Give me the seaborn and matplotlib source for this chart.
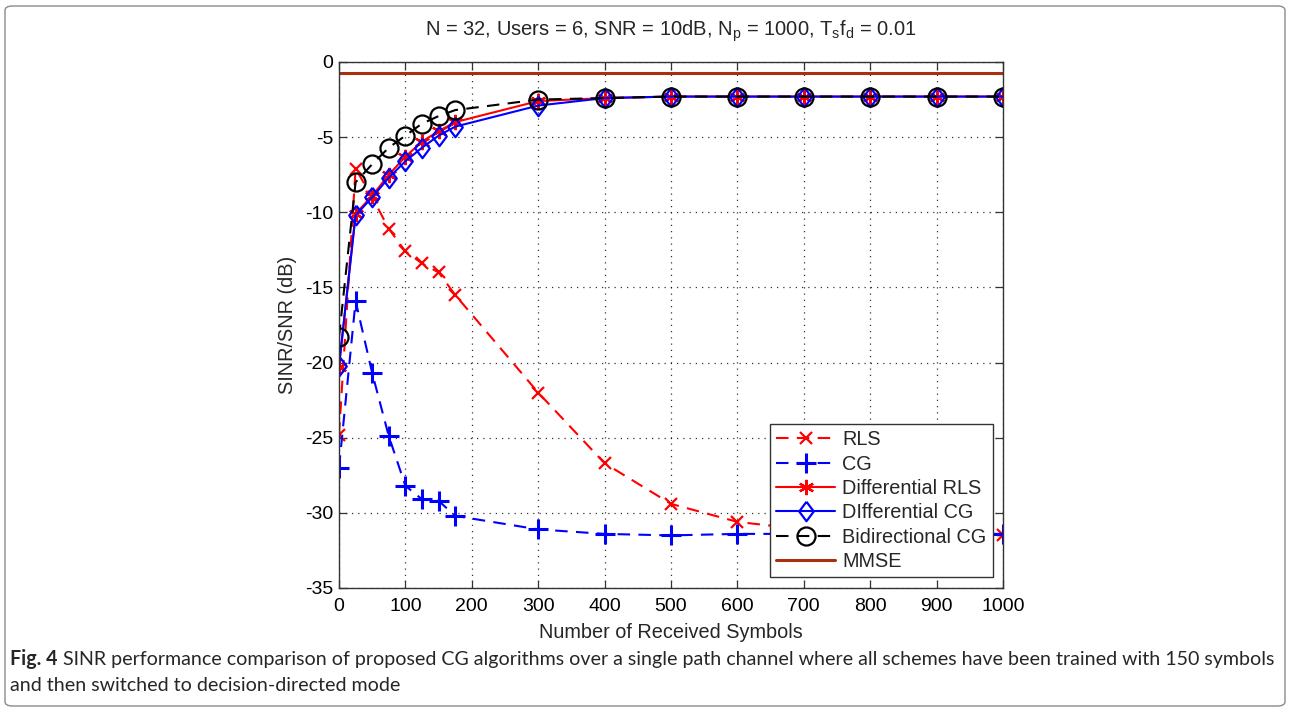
import numpy as np
import pandas as pd
import matplotlib
matplotlib.use("Agg")
import matplotlib.pyplot as plt
from matplotlib.patches import FancyBboxPatch
import seaborn as sns

# ---------------- data ----------------
symbols = [0, 25, 50, 75, 100, 125, 150, 175, 300, 400, 500, 600, 700, 800, 900, 1000]
rls = [-24.8, -7.1, -9.0, -11.1, -12.6, -13.4, -14.0, -15.5, -22.0, -26.7, -29.4, -30.6, -31.1, -31.3, -31.4, -31.5]
cg = [-27.0, -15.9, -20.7, -24.9, -28.2, -29.1, -29.2, -30.2, -31.1, -31.4, -31.5, -31.4, -31.4, -31.4, -31.4, -31.4]
diff_rls = [-20.3, -10.1, -8.9, -7.5, -6.3, -5.3, -4.6, -4.0, -2.6, -2.4, -2.3, -2.3, -2.3, -2.3, -2.3, -2.3]
diff_cg = [-20.2, -10.2, -9.0, -7.7, -6.6, -5.7, -4.9, -4.3, -2.9, -2.4, -2.3, -2.3, -2.3, -2.3, -2.3, -2.3]
bidir_cg = [-18.3, -8.0, -6.8, -5.7, -4.9, -4.1, -3.6, -3.2, -2.5, -2.4, -2.3, -2.3, -2.3, -2.3, -2.3, -2.3]
mmse_x = [0, 1000]
mmse = [-0.7, -0.7]

series_names = ["RLS", "CG", "Differential RLS", "DIfferential CG", "Bidirectional CG", "MMSE"]
x_ticks = [0, 100, 200, 300, 400, 500, 600, 700, 800, 900, 1000]
y_ticks = [-35, -30, -25, -20, -15, -10, -5, 0]

title = r"N = 32, Users = 6, SNR = 10dB, N$_\mathregular{p}$ = 1000, T$_\mathregular{s}$f$_\mathregular{d}$ = 0.01"
xlabel = "Number of Received Symbols"
ylabel = "SINR/SNR (dB)"
caption_bold = "Fig. 4"
caption_1 = (" SINR performance comparison of proposed CG algorithms over a single path channel "
             "where all schemes have been trained with 150 symbols")
caption_2 = "and then switched to decision-directed mode"

# ---------------- style ----------------
sns.set_theme(style="white")
plt.rcParams["font.family"] = ["Liberation Sans", "DejaVu Sans"]
plt.rcParams["axes.unicode_minus"] = False
plt.rcParams["mathtext.fontset"] = "custom"
plt.rcParams["mathtext.rm"] = "Liberation Sans"

W, H = 1291, 711
fig = plt.figure(figsize=(W / 100, H / 100), dpi=100)
fig.patch.set_facecolor("white")

ax_l, ax_r, ax_t, ax_b = 339, 1003, 62, 588
ax = fig.add_axes([ax_l / W, 1 - ax_b / H, (ax_r - ax_l) / W, (ax_b - ax_t) / H])

diamond = [(0, 1), (0.75, 0), (0, -1), (-0.75, 0), (0, 1)]
dash = (0, (6, 4))
lw = 1.5
sns.lineplot(x=symbols, y=rls, ax=ax, color="red", linestyle=dash, lw=lw,
             marker="x", markersize=9, markeredgewidth=1.6, markeredgecolor="red",
             label=series_names[0], sort=False)
sns.lineplot(x=symbols, y=cg, ax=ax, color="blue", linestyle=dash, lw=lw,
             marker="+", markersize=14, markeredgewidth=2.2, markeredgecolor="blue",
             label=series_names[1], sort=False)
sns.lineplot(x=symbols, y=diff_rls, ax=ax, color="red", linestyle="-", lw=lw,
             marker=(6, 2, 0), markersize=11, markeredgewidth=1.6, markeredgecolor="red",
             label=series_names[2], sort=False)
sns.lineplot(x=symbols, y=diff_cg, ax=ax, color="blue", linestyle="-", lw=lw,
             marker=diamond, markersize=14, markeredgewidth=1.6, markerfacecolor="none",
             markeredgecolor="blue", label=series_names[3], sort=False)
sns.lineplot(x=symbols, y=bidir_cg, ax=ax, color="black", linestyle=dash, lw=lw,
             marker="o", markersize=13, markeredgewidth=1.6, markerfacecolor="none",
             markeredgecolor="black", label=series_names[4], sort=False)
sns.lineplot(x=mmse_x, y=mmse, ax=ax, color="#A8300F", linestyle="-", lw=2.2,
             label=series_names[5], sort=False)

fs = 14.3
ax.set_xlim(0, 1000)
ax.set_ylim(-35, 0)
ax.set_xticks(x_ticks)
ax.set_yticks(y_ticks)
ax.set_xticklabels([str(v) for v in x_ticks])
ax.set_yticklabels([str(v) for v in y_ticks])
ax.grid(True, color="black", linestyle=(0, (1, 4)), linewidth=0.9, alpha=0.8)
ax.set_axisbelow(True)
for s in ax.spines.values():
    s.set_color("#333333")
    s.set_linewidth(1.0)
    s.set_visible(True)
ax.tick_params(axis="both", which="both", direction="in", length=6, width=0.9,
               top=True, right=True, bottom=True, left=True, labelsize=14,
               colors="#333333", labelcolor="black", pad=4)
ax.tick_params(axis="x", pad=7.5)
ax.set_xlabel(xlabel, fontsize=fs, labelpad=5.5)
ax.set_ylabel(ylabel, fontsize=fs, labelpad=6)

leg = ax.legend(loc="lower right", bbox_to_anchor=(0.985, 0.02), fontsize=fs,
                frameon=True, fancybox=False, edgecolor="#333333", framealpha=1,
                handlelength=3.0, handletextpad=0.35, labelspacing=0.27, borderpad=0.32,
                borderaxespad=0)
leg.get_frame().set_linewidth(1.0)

fig.text((ax_l + ax_r) / 2 / W, 1 - 31 / H, title, ha="center", va="center", fontsize=14.5)

# caption
cap_font = ["Lato", "DejaVu Sans"]
cap_size = 14.1
t1 = fig.text(10 / W, 1 - 665 / H, caption_bold, ha="left", va="baseline", fontsize=cap_size,
              fontweight="bold", family=cap_font)
fig.canvas.draw()
bb = t1.get_window_extent()
fig.text(bb.x1 / W, 1 - 665 / H, caption_1, ha="left", va="baseline", fontsize=cap_size,
         family=cap_font)
fig.text(10 / W, 1 - 691 / H, caption_2, ha="left", va="baseline", fontsize=cap_size,
         family=cap_font)

# outer frame
frame = FancyBboxPatch((5 / W, 5 / H), (W - 11) / W, (H - 11) / H,
                       boxstyle="round,pad=0,rounding_size=0.006",
                       transform=fig.transFigure, facecolor="none",
                       edgecolor="#8a8a8a", linewidth=1.0)
fig.patches.append(frame)

fig.savefig("out.png", dpi=100)
